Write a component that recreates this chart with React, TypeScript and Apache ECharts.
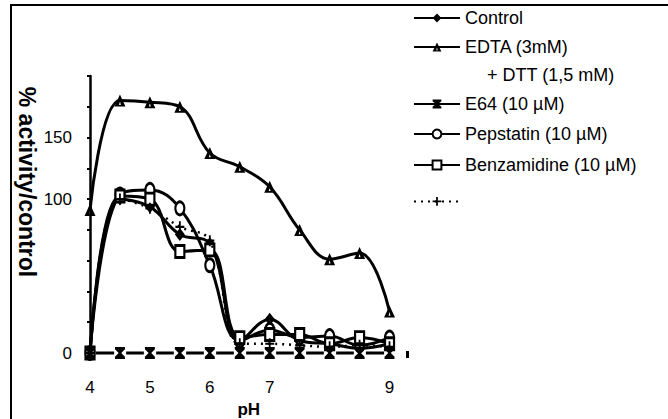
import React, { useEffect, useRef } from "react";
import * as echarts from "echarts";

// ---- data ----
const PH = [4, 4.5, 5, 5.5, 6, 6.5, 7, 7.5, 8, 8.5, 9];
const CONTROL = [0, 100, 95, 77, 71, 8, 22, 8, 6, 3, 6];
const EDTA_DTT = [93, 164, 163, 160, 130, 121, 108, 80, 61, 65, 27];
const E64 = [0, 0, 0, 0, 0, 0, 0, 0, 0, 0, 0];
const PEPSTATIN = [0, 103, 106, 94, 57, 8, 15, 10, 11, 5, 10];
const BENZAMIDINE = [0, 102, 100, 66, 67, 10, 12, 12, 6, 10, 6];
const UNLABELLED = [0, 100, 94, 82, 73, 6, 6, 5, 4, 5, 4];

const X_TICK_LABELS = [4, 5, 6, 7, 9];
const Y_TICK_LABELS: Record<number, string> = { 0: "0", 100: "100", 140: "150" };

const N_CONTROL = "Control";
const N_EDTA = "EDTA (3mM) + DTT (1,5 mM)";
const N_E64 = "E64 (10 µM)";
const N_PEP = "Pepstatin (10 µM)";
const N_BENZ = "Benzamidine (10 µM)";
const N_UNL = "Unlabelled series";

const FONT = "'Liberation Sans', Arial, Helvetica, sans-serif";

const DIAMOND = "path://M5,0L10,6L5,12L0,6Z M5,4.5L4,6L5,7.5L6,6Z";
const TRIANGLE = "path://M5,0L10,12L0,12Z M5,6.5L4.2,10.3L5.8,10.3Z";
const HOURGLASS = "path://M0,0L10,0L10,2.2L6.3,6L10,9.8L10,12L0,12L0,9.8L3.7,6L0,2.2Z";
const PLUS = "path://M4,0L6,0L6,4L10,4L10,6L6,6L6,10L4,10L4,6L0,6L0,4L4,4Z";

const toPairs = (vals: number[]) => PH.map((x, i) => [x, vals[i]]);

export default function App() {
  const ref = useRef<HTMLDivElement>(null);

  useEffect(() => {
    document.body.style.margin = "0";
    if (!ref.current) return;
    const chart = echarts.init(ref.current, null, { renderer: "svg" });

    const base = (name: string, vals: number[], extra: any) => ({
      name,
      type: "line",
      data: toPairs(vals),
      smooth: 0.4,
      clip: false,
      lineStyle: { color: "#000", width: 3 },
      ...extra,
    });

    const legendRow = (name: string, top: number, extra: any = {}) => ({
      data: [name],
      orient: "vertical",
      left: 413,
      top,
      padding: 0,
      itemWidth: 46,
      itemHeight: 11,
      selectedMode: false,
      textStyle: { fontSize: 18, color: "#000", fontFamily: FONT, lineHeight: 20 },
      formatter: (n: string) => (n === N_EDTA ? "EDTA (3mM)" : n === N_UNL ? "" : n),
      ...extra,
    });

    const option: any = {
      animation: false,
      backgroundColor: "#fff",
      textStyle: { fontFamily: FONT, color: "#000" },
      grid: { left: 90, right: 260.5, top: 76, bottom: 66, containLabel: false, outerBoundsMode: "none" },
      xAxis: {
        type: "value",
        min: 4,
        max: 9.3,
        interval: 1,
        axisLine: { show: false },
        axisTick: { show: false },
        splitLine: { show: false },
        axisLabel: {
          margin: 26,
          fontSize: 17,
          color: "#000",
          fontFamily: FONT,
          formatter: (v: number) => (X_TICK_LABELS.includes(v) ? String(v) : ""),
        },
        name: "pH",
        nameLocation: "middle",
        nameGap: 42,
        nameTextStyle: { fontWeight: "bold", fontSize: 17, color: "#000", fontFamily: FONT },
      },
      yAxis: {
        type: "value",
        min: 0,
        max: 180,
        interval: 20,
        axisLine: { show: true, lineStyle: { color: "#000", width: 2.5 } },
        axisTick: { show: true, inside: false, length: 3, lineStyle: { color: "#000", width: 2 } },
        splitLine: { show: false },
        axisLabel: {
          margin: 18,
          fontSize: 17,
          color: "#000",
          fontFamily: FONT,
          formatter: (v: number) => Y_TICK_LABELS[v] ?? "",
        },
      },
      legend: [
        legendRow(N_CONTROL, 8),
        legendRow(N_EDTA, 37),
        legendRow(N_E64, 94, { lineStyle: { type: "solid" } }),
        legendRow(N_PEP, 124),
        legendRow(N_BENZ, 155),
        legendRow(N_UNL, 197),
      ],
      graphic: [
        {
          type: "rect",
          shape: { x: 11, y: 5, width: 800, height: 600 },
          style: { fill: "none", stroke: "#000", lineWidth: 2 },
          silent: true,
        },
        {
          type: "text",
          x: 487,
          y: 75,
          style: { text: "+ DTT (1,5 mM)", fontSize: 18, fontFamily: FONT, fill: "#000", textVerticalAlign: "middle" },
        },
        {
          type: "text",
          x: 27,
          y: 182,
          rotation: -Math.PI / 2,
          style: {
            text: "% activity/control",
            fontSize: 23,
            fontWeight: "bold",
            fontFamily: FONT,
            fill: "#000",
            textAlign: "center",
            textVerticalAlign: "middle",
          },
        },
        {
          type: "rect",
          shape: { x: 406, y: 351, width: 3, height: 7 },
          style: { fill: "#000" },
          silent: true,
        },
      ],
      series: [
        base(N_CONTROL, CONTROL, {
          symbol: DIAMOND,
          symbolSize: [10, 13],
          itemStyle: { color: "#000" },
          z: 3,
        }),
        base(N_EDTA, EDTA_DTT, {
          symbol: TRIANGLE,
          symbolSize: [11, 12],
          itemStyle: { color: "#000" },
          z: 3,
        }),
        base(N_PEP, PEPSTATIN, {
          symbol: "circle",
          symbolSize: [9, 13],
          itemStyle: { color: "#fff", borderColor: "#000", borderWidth: 2.5 },
          z: 4,
        }),
        base(N_BENZ, BENZAMIDINE, {
          symbol: "rect",
          symbolSize: [9, 12],
          itemStyle: { color: "#fff", borderColor: "#000", borderWidth: 2.5 },
          z: 4,
        }),
        base(N_UNL, UNLABELLED, {
          symbol: PLUS,
          symbolSize: [9, 11],
          itemStyle: { color: "#000" },
          lineStyle: { color: "#000", width: 2.5, type: [2, 5] },
          z: 5,
        }),
        base(N_E64, E64, {
          symbol: HOURGLASS,
          symbolSize: [10, 12],
          itemStyle: { color: "#000" },
          lineStyle: { color: "#000", width: 3, type: [18, 12], dashOffset: 24 },
          z: 6,
        }),
      ],
    };

    chart.setOption(option);
    return () => chart.dispose();
  }, []);

  return <div ref={ref} style={{ width: 668, height: 419 }} />;
}
